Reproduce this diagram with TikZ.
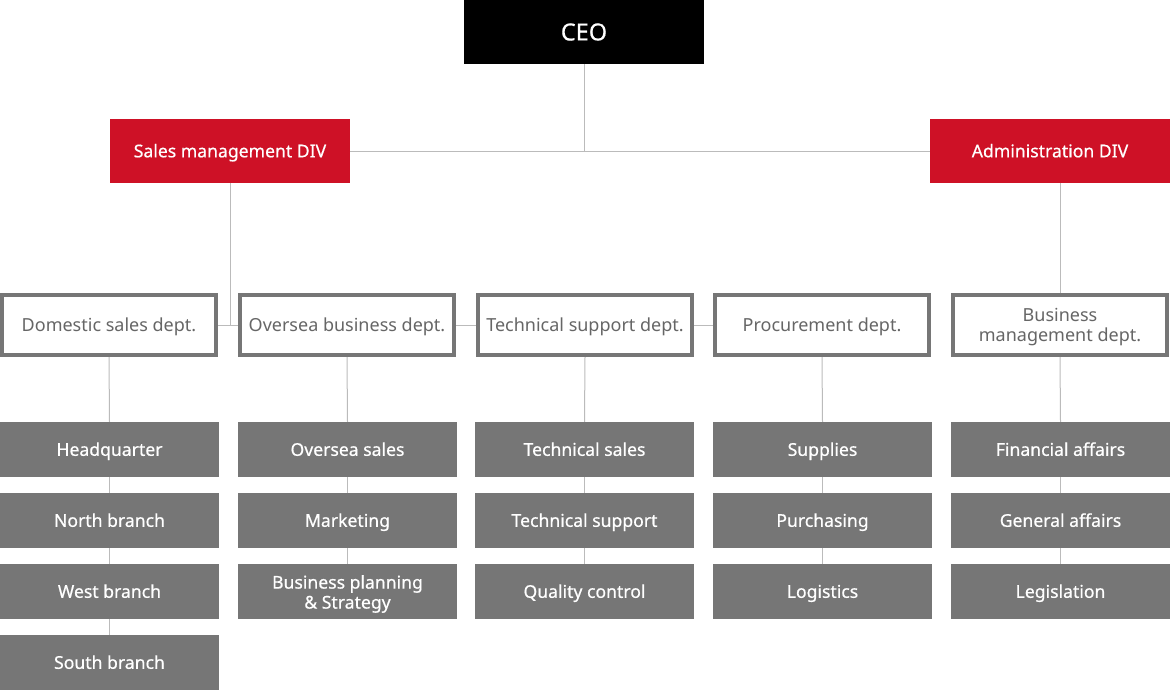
\documentclass[tikz,border=0pt]{standalone}
\usepackage{fontspec}
\setmainfont{Noto Sans}
\newfontfamily\medfont[FakeBold=0.6]{Noto Sans}
\usetikzlibrary{backgrounds}
\definecolor{cred}{HTML}{CE1126}
\definecolor{cgrey}{HTML}{767676}
\definecolor{cline}{HTML}{BBBBBB}
\definecolor{ctext}{HTML}{666666}
\begin{document}
\begin{tikzpicture}[x=1pt,y=-1pt,
  oneline/.style={text height=12.6pt,text depth=0pt},
  twoline/.style={text height=,text depth=},
  ceobox/.style={fill=black,text=white,minimum width=240pt,minimum height=64pt,inner sep=0pt,text height=16.8pt,text depth=0pt,font=\medfont\fontsize{23.5}{26}\selectfont},
  divbox/.style={fill=cred,text=white,minimum width=240pt,minimum height=64pt,inner sep=0pt,oneline,font=\medfont\fontsize{17.6}{20}\selectfont},
  deptbox/.style={draw=cgrey,line width=4pt,fill=white,text=ctext,minimum width=214pt,minimum height=60pt,inner sep=0pt,align=center,oneline,font=\fontsize{18}{20}\selectfont},
  subbox/.style={fill=cgrey,text=white,minimum width=219pt,minimum height=55pt,inner sep=0pt,align=center,oneline,font=\medfont\fontsize{17.6}{20}\selectfont},
  conn/.style={draw=cline,line width=1pt}]
\useasboundingbox (0,0) rectangle (1170,691);
\node[ceobox] (ceo) at (584,32) {CEO};
\node[divbox] (sales) at (230,151) {Sales management DIV};
\node[divbox] (admin) at (1050,151) {Administration DIV};
\node[deptbox] (d1) at (109,325) {Domestic sales dept.};
\node[deptbox] (d2) at (347,325) {Oversea business dept.};
\node[deptbox] (d3) at (585,325) {Technical support dept.};
\node[deptbox] (d4) at (822,325) {Procurement dept.};
\node[deptbox,twoline] (d5) at (1060,325) {};
\node[twoline,text=ctext,align=center,font=\fontsize{18}{20}\selectfont,yshift=-2pt] (d5t) at (d5) {Business\\management dept.};
% column 1
\node[subbox] (a1) at (109.5,449.5) {Headquarter};
\node[subbox] (a2) at (109.5,520.5) {North branch};
\node[subbox] (a3) at (109.5,591.5) {West branch};
\node[subbox] (a4) at (109.5,662.5) {South branch};
% column 2
\node[subbox] (b1) at (347.5,449.5) {Oversea sales};
\node[subbox] (b2) at (347.5,520.5) {Marketing};
\node[subbox] (b3) at (347.5,591.5) {};
\node[twoline,text=white,align=center,font=\medfont\fontsize{17.6}{20}\selectfont,yshift=-2.5pt] (b3t) at (b3) {Business planning\\\& Strategy};
% column 3
\node[subbox] (c1) at (584.5,449.5) {Technical sales};
\node[subbox] (c2) at (584.5,520.5) {Technical support};
\node[subbox] (c3) at (584.5,591.5) {Quality control};
% column 4
\node[subbox] (e1) at (822.5,449.5) {Supplies};
\node[subbox] (e2) at (822.5,520.5) {Purchasing};
\node[subbox] (e3) at (822.5,591.5) {Logistics};
% column 5
\node[subbox] (f1) at (1060.5,449.5) {Financial affairs};
\node[subbox] (f2) at (1060.5,520.5) {General affairs};
\node[subbox] (f3) at (1060.5,591.5) {Legislation};
\begin{pgfonlayer}{background}
\draw[conn] (ceo.south) -- (ceo.south |- sales.east);
\draw[conn] (sales.east) -- (admin.west);
\draw[conn] (sales.south) -- (sales.south |- d1.east);
\draw[conn] (d1.east) -- (d4.west);
\draw[conn] (d5.north) -- (d5.north |- admin.south);
\draw[conn] (d1.south) -- (a1.north);
\draw[conn] (a1.south) -- (a2.north);
\draw[conn] (a2.south) -- (a3.north);
\draw[conn] (a3.south) -- (a4.north);
\draw[conn] (d2.south) -- (b1.north);
\draw[conn] (b1.south) -- (b2.north);
\draw[conn] (b2.south) -- (b3.north);
\draw[conn] (d3.south) -- (c1.north);
\draw[conn] (c1.south) -- (c2.north);
\draw[conn] (c2.south) -- (c3.north);
\draw[conn] (d4.south) -- (e1.north);
\draw[conn] (e1.south) -- (e2.north);
\draw[conn] (e2.south) -- (e3.north);
\draw[conn] (d5.south) -- (f1.north);
\draw[conn] (f1.south) -- (f2.north);
\draw[conn] (f2.south) -- (f3.north);
\end{pgfonlayer}
\end{tikzpicture}
\end{document}
